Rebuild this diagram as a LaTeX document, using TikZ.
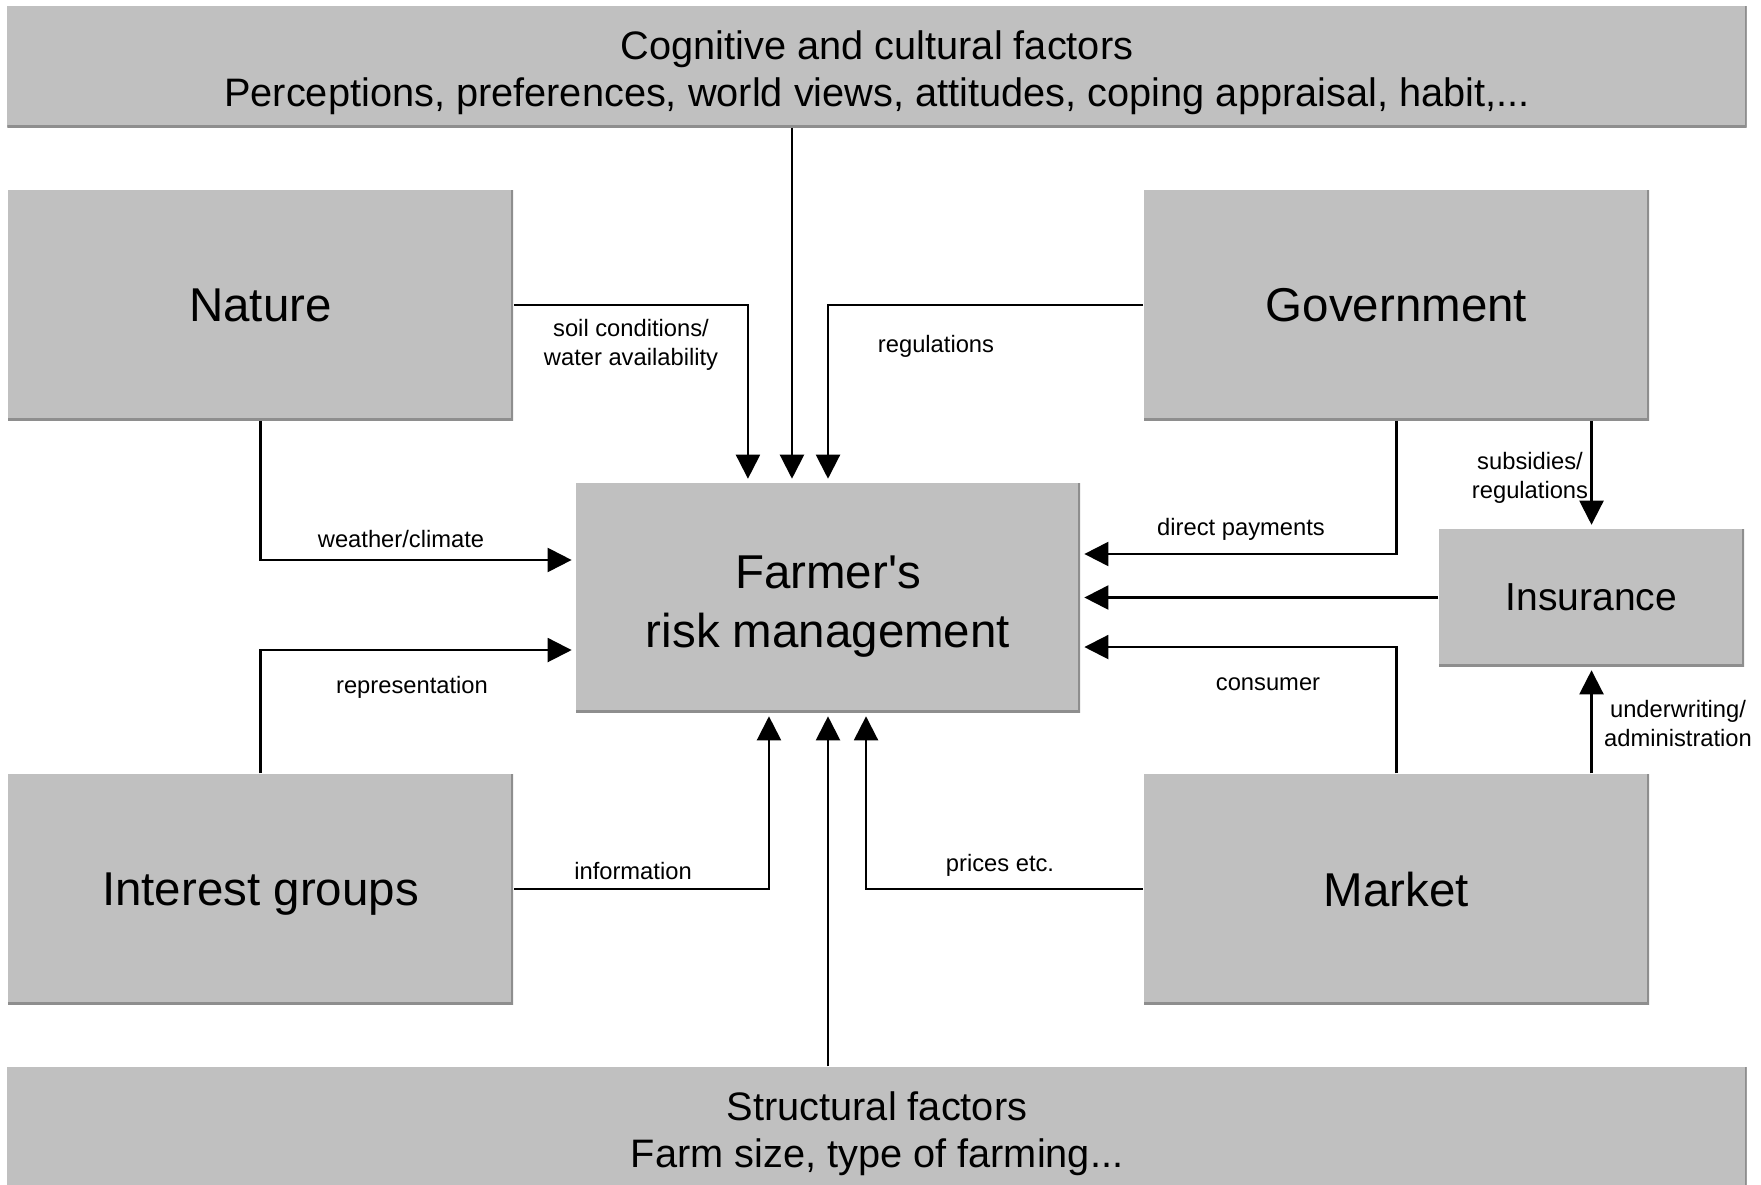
\documentclass[tikz,border=0pt]{standalone}
\usepackage{fontspec}
\setmainfont{Liberation Sans}[Ligatures=TeXOff]
\usetikzlibrary{arrows.meta}
\definecolor{boxgray}{HTML}{C0C0C0}
\definecolor{edgegray}{HTML}{8E8E8E}

\begin{document}
\begin{tikzpicture}[x=0.01cm,y=-0.01cm,
  box/.style={fill=boxgray,inner sep=0pt,align=center,
    path picture={\draw [edgegray,line width=1pt]
      (path picture bounding box.north east) -- (path picture bounding box.south east)
      -- (path picture bounding box.south west);}},
  flow/.style={line width=0.6pt,-{Triangle[length=0.24cm,width=0.24cm]},
    shorten >=1pt},
  lbl/.style={align=center,inner sep=0pt,yshift=-0.01cm,
    font=\fontsize{6.75}{8.25}\selectfont}]
\clip (0,0) rectangle (1761,1184);
\path
  (877,66.5) node [box,minimum width=17.38cm,minimum height=1.21cm,
    font=\fontsize{11.3}{13.4}\selectfont] (cognitive)
  {\rule{0pt}{11.7pt}Cognitive and cultural factors\\
   Perceptions, preferences, world views, attitudes, coping appraisal, habit,...}
  (260.5,305) node [box,minimum width=5.05cm,minimum height=2.3cm,text depth=0pt,
    font=\fontsize{13.5}{16.8}\selectfont] (nature) {Nature}
  (1396.5,305) node [box,minimum width=5.05cm,minimum height=2.3cm,text depth=0pt,
    font=\fontsize{13.5}{16.8}\selectfont] (government) {Government}
  (828,597.5) node [box,minimum width=5.04cm,minimum height=2.29cm,
    font=\fontsize{13.5}{16.8}\selectfont] (farmer)
  {\rule{0pt}{14.5pt}Farmer's\\risk management}
  (1591.5,597.5) node [box,minimum width=3.05cm,minimum height=1.37cm,
    text depth=0pt,font=\fontsize{11.1}{13.4}\selectfont] (insurance) {Insurance}
  (260.5,889) node [box,minimum width=5.05cm,minimum height=2.3cm,text depth=0pt,
    font=\fontsize{13.5}{16.8}\selectfont] (interest) {Interest groups}
  (1396.5,889) node [box,minimum width=5.05cm,minimum height=2.3cm,text depth=0pt,
    font=\fontsize{13.5}{16.8}\selectfont] (market) {Market}
  (877,1130) node [box,minimum width=17.38cm,minimum height=1.26cm,
    font=\fontsize{11.3}{13.4}\selectfont] (structural)
  {\rule{0pt}{10.3pt}Structural factors\\Farm size, type of farming...};

% entry points on the farmer box
\coordinate (soilin) at ([xshift=-0.8cm]farmer.north);
\coordinate (cogin) at ([xshift=-0.36cm]farmer.north);
\coordinate (weatherin) at ([yshift=0.375cm]farmer.west);
\coordinate (reprin) at ([yshift=-0.525cm]farmer.west);
\coordinate (infoin) at ([xshift=-0.59cm]farmer.south);
\coordinate (pricein) at ([xshift=0.38cm]farmer.south);
\coordinate (paymentin) at ([yshift=0.435cm]farmer.east);
\coordinate (consumerin) at ([yshift=-0.495cm]farmer.east);

\draw [flow] (cognitive.south -| cogin) -- (cogin);
\draw [flow] (nature.east) -| (soilin);
\draw [flow] (government.west) -| (farmer.north);
\draw [flow] (nature.south) |- (weatherin);
\draw [flow] (interest.north) |- (reprin);
\draw [flow] (interest.east) -| (infoin);
\draw [flow] (structural.north -| farmer.south) -- (farmer.south);
\draw [flow] (market.west) -| (pricein);
\draw [flow] (government.south) |- (paymentin);
\draw [flow] (insurance.west) -- (farmer.east);
\draw [flow] (market.north) |- (consumerin);
\draw [flow] (government.south -| insurance.north) -- (insurance.north);
\draw [flow] (market.north -| insurance.south) -- (insurance.south);

% labels
\node [lbl] (soillbl) at (631,344) {soil conditions/\\water availability};
\node [lbl] (reglbl) at (936,345) {regulations};
\node [lbl] (weatherlbl) at (401,538) {weather/climate};
\node [lbl] (reprlbl) at (412,686) {representation};
\node [lbl] (infolbl) at (633,870) {information};
\node [lbl] (pricelbl) at (1000,864) {prices etc.};
\node [lbl] (paymentlbl) at (1241,528) {direct payments};
\node [lbl] (consumerlbl) at (1268,683) {consumer};
\node [lbl] (subsidylbl) at (1530,476.5) {subsidies/\\regulations};
\node [lbl] (underwritelbl) at (1678,722.5) {underwriting/\\administration};
\end{tikzpicture}
\end{document}
